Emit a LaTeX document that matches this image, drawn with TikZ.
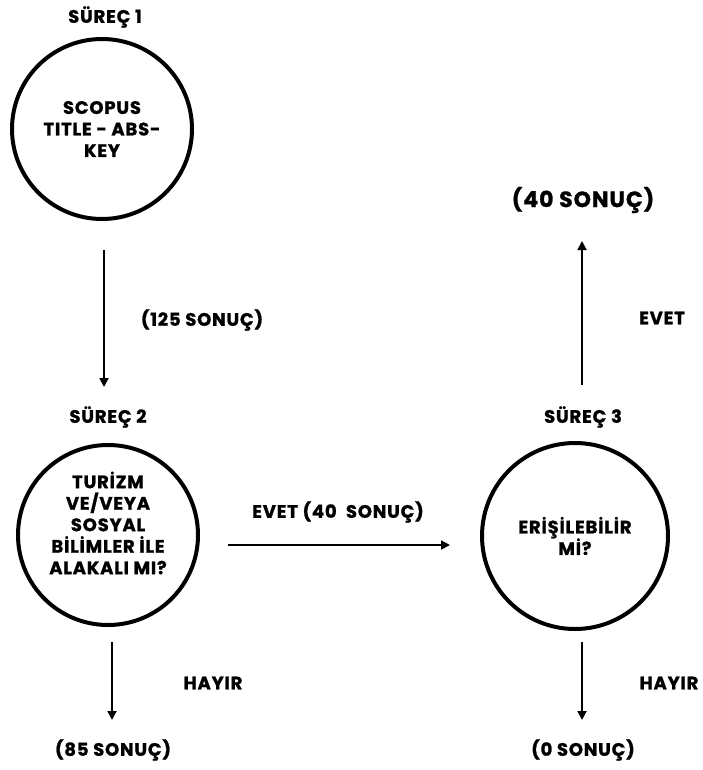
\documentclass[tikz,border=0pt]{standalone}
\usepackage{fontspec}
\setmainfont{Poppins}[LetterSpace=4.5, BoldFeatures={FakeBold=1.2}]
\usetikzlibrary{arrows.meta}

\begin{document}
\begin{tikzpicture}[x=1pt,y=-1pt]
\useasboundingbox (0,0) rectangle (703,770);

\tikzset{StepStyle/.style = {
 shape = circle,
 draw = black,
 line width = 4pt,
 minimum size = 180pt,
 inner sep = 0pt,
 align = center,
 font = \bfseries\fontsize{18}{21.5}\selectfont} }
\tikzset{LabelStyle/.style = {font = \bfseries\fontsize{18}{21.5}\selectfont} }
\tikzset{EdgeStyle/.style = {line width = 1.8pt, -{Triangle[width=9pt,length=9pt]}} }

% the three process circles
\node[StepStyle] (S1) at (102, 129) {SCOPUS\\TITLE - ABS-\\KEY};
\node[StepStyle] (S2) at (108, 535) {};
\node[LabelStyle, align=center] (S2T) at (108, 523) {TURİZM\\VE/VEYA\\SOSYAL\\BİLİMLER İLE\\ALAKALI MI?};
\node[StepStyle, minimum size = 186pt] (S3) at (575, 536) {ERİŞİLEBİLİR\\Mİ?};

% titles and results
\node[LabelStyle] (T1) at (105, 17) {SÜREÇ 1};
\node[LabelStyle] (T2) at (108, 417) {SÜREÇ 2};
\node[LabelStyle] (T3) at (583, 417) {SÜREÇ 3};
\node[font = \bfseries\fontsize{22}{26}\selectfont] (R1) at (583, 200) {(40 SONUÇ)};
\node[LabelStyle] (R2) at (113, 750) {(85 SONUÇ)};
\node[LabelStyle] (R3) at (583, 750) {(0 SONUÇ)};

% arrow ends
\coordinate (A1a) at (104, 250);
\coordinate (A1b) at (104, 387);
\coordinate (A2a) at (228, 545);
\coordinate (A2b) at (450, 545);
\coordinate (A3a) at (582, 385);
\coordinate (A3b) at (582, 241);
\coordinate (A4a) at (112, 642);
\coordinate (A4b) at (112, 720);
\coordinate (A5a) at (582, 642);
\coordinate (A5b) at (582, 720);

\draw[EdgeStyle] (A1a) -- (A1b);
\draw[EdgeStyle] (A2a) -- (A2b);
\draw[EdgeStyle] (A3a) -- (A3b);
\draw[EdgeStyle] (A4a) -- (A4b);
\draw[EdgeStyle] (A5a) -- (A5b);

% arrow labels
\node[LabelStyle] (L1) at (202, 320) {(125 SONUÇ)};
\node[LabelStyle] (L2) at (338, 512) {EVET (40\ \ SONUÇ)};
\node[LabelStyle] (L3) at (662, 318) {EVET};
\node[LabelStyle] (L4) at (213, 683) {HAYIR};
\node[LabelStyle] (L5) at (669, 683) {HAYIR};

\end{tikzpicture}
\end{document}
